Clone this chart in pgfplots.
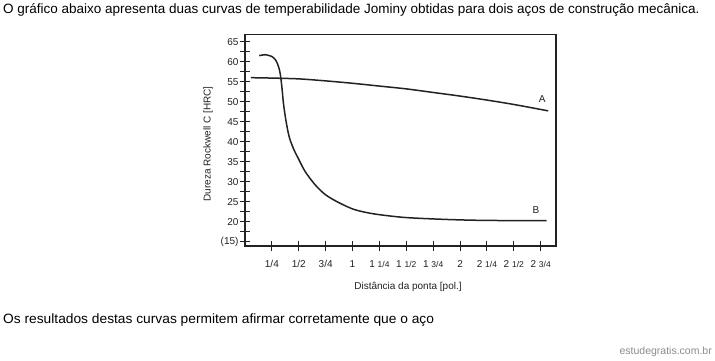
\documentclass[border=0pt]{standalone}
\usepackage{pgfplots}
\pgfplotsset{compat=1.18}
\usepackage{fontspec}
\setmainfont{Liberation Sans}
\definecolor{ink}{HTML}{222222}
\begin{document}
\begin{tikzpicture}[x=1pt,y=1pt]
\useasboundingbox (0,0) rectangle (715,360);
\fill[white] (0,0) rectangle (715,360);
\node[anchor=west,inner sep=0pt,text=black] at (3,350) {\fontsize{13.5}{15}\selectfont O gráfico abaixo apresenta duas curvas de temperabilidade Jominy obtidas para dois aços de construção mecânica.};
\node[anchor=west,inner sep=0pt,text=black] at (3,40) {\scalebox{1.02}[1]{\fontsize{13.5}{15}\selectfont Os resultados destas curvas permitem afirmar corretamente que o aço}};
\node[anchor=east,inner sep=0pt,text=black!45] at (712,8) {\fontsize{10.5}{12}\selectfont estudegratis.com.br};
\node[rotate=90,inner sep=0pt,text=ink,font=\fontsize{10}{12}\selectfont] at (208,216) {Dureza Rockwell C [HRC]};
\begin{axis}[
  at={(245pt,114pt)}, anchor=south west,
  width=311pt, height=211.7pt, scale only axis,
  xmin=0, xmax=11.57, ymin=13.9, ymax=66.85,
  axis line style={draw=ink, line width=1.1pt},
  xtick={1,...,11},
  xticklabels={1/4,1/2,3/4,1,{1 {\fontsize{8.5}{9}\selectfont 1/4}},{1 {\fontsize{8.5}{9}\selectfont 1/2}},{1 {\fontsize{8.5}{9}\selectfont 3/4}},2,{2 {\fontsize{8.5}{9}\selectfont 1/4}},{2 {\fontsize{8.5}{9}\selectfont 1/2}},{2 {\fontsize{8.5}{9}\selectfont 3/4}}},
  ytick={15,20,...,65},
  yticklabels={(15),20,25,30,35,40,45,50,55,60,65},
  minor ytick={17.5,22.5,...,62.5},
  tick align=center,
  major tick length=10pt, minor tick length=10pt,
  tick style={draw=ink, line width=0.9pt},
  xtick pos=bottom, ytick pos=left,
  ticklabel style={font=\fontsize{10}{12}\selectfont, text=ink},
  xticklabel style={anchor=base, yshift=-16pt},
  yticklabel style={xshift=2pt},
  xlabel={Distância da ponta [pol.]},
  label style={font=\fontsize{10}{12}\selectfont, text=ink},
  xlabel style={at={(axis description cs:0.524,0)}, anchor=center, yshift=-41pt},
  clip=false,
]
\addplot[ink, line width=1.5pt, smooth] coordinates {
(0.22,56.0)(1,55.9)(2,55.7)(3,55.2)(4,54.6)(5,53.9)(6,53.2)(7,52.3)(8,51.4)(9,50.4)(10,49.3)(11.28,47.7)};
\addplot[ink, line width=1.5pt, smooth, tension=0.5] coordinates {
(0.53,61.5)(0.75,61.75)(1.0,61.3)(1.15,60.3)(1.25,58.7)(1.31,57.0)(1.37,53.8)(1.43,49.6)(1.52,45.4)(1.64,41.3)(1.8,38.3)(1.99,35.7)(2.24,32.5)(2.61,29.2)(2.98,26.8)(3.42,25.0)(4.03,23.1)(4.65,22.1)(5.28,21.5)(6.02,21.0)(7.26,20.6)(8.5,20.35)(10,20.25)(11.22,20.25)};
\node[font=\fontsize{10}{12}\selectfont, text=ink] at (axis cs:11.06,50.6) {A};
\node[font=\fontsize{10}{12}\selectfont, text=ink] at (axis cs:10.82,22.9) {B};
\end{axis}
\end{tikzpicture}
\end{document}
